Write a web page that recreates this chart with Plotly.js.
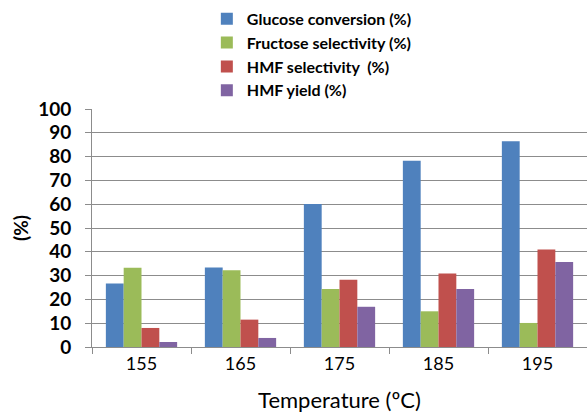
<!DOCTYPE html>
<html>
<head>
<meta charset="utf-8">
<script src="https://cdn.plot.ly/plotly-3.0.1.min.js"></script>
<style>html,body{margin:0;padding:0;background:#fff;}#chart{width:587px;height:418px;}</style>
</head>
<body>
<div id="chart"></div>
<script>
const temperatures = ["155", "165", "175", "185", "195"];
const glucoseConversion = [26.7, 33.4, 60.1, 78.3, 86.4];
const fructoseSelectivity = [33.3, 32.2, 24.4, 15.0, 10.1];
const hmfSelectivity = [8.0, 11.5, 28.3, 30.9, 41.0];
const hmfYield = [2.1, 3.8, 16.9, 24.4, 35.7];
const seriesNames = ["Glucose conversion (%)", "Fructose selectivity (%)", "HMF selectivity  (%)", "HMF yield (%)"];
const seriesColors = ["#4F81BD", "#9BBB59", "#C0504D", "#8064A2"];
const seriesValues = [glucoseConversion, fructoseSelectivity, hmfSelectivity, hmfYield];

const font = "Lato, 'Open Sans', sans-serif";
const traces = seriesValues.map((v, i) => ({
  type: "bar",
  x: temperatures,
  y: v,
  name: seriesNames[i],
  marker: {color: seriesColors[i], line: {width: 0}},
  hoverinfo: "x+y+name"
}));

const layout = {
  width: 587, height: 418,
  margin: {l: 92, r: 0, t: 109, b: 71},
  paper_bgcolor: "#fff", plot_bgcolor: "#fff",
  barmode: "group", bargap: 0.28, bargroupgap: 0,
  font: {family: font, color: "#000"},
  showlegend: true,
  legend: {
    x: 0.232, y: 1.45, xanchor: "left", yanchor: "top",
    font: {family: font, size: 16, color: "#000", weight: "bold"},
    traceorder: "normal",
    itemwidth: 30, bgcolor: "rgba(0,0,0,0)"
  },
  xaxis: {
    type: "category",
    showline: true, linecolor: "#8c8c8c", linewidth: 1,
    ticks: "outside", tickson: "boundaries", ticklen: 6, tickcolor: "#8c8c8c",
    tickfont: {family: font, size: 18, color: "#000"},
    showgrid: false,
    title: {text: "Temperature (ºC)", font: {family: font, size: 22, color: "#000"}, standoff: 20}
  },
  yaxis: {
    range: [0, 100], dtick: 10, tick0: 0,
    showline: true, linecolor: "#8c8c8c", linewidth: 1,
    ticks: "outside", ticklen: 6, tickcolor: "#8c8c8c",
    ticklabelstandoff: 10,
    showgrid: true, gridcolor: "#8c8c8c", gridwidth: 1,
    zeroline: false,
    tickfont: {family: font, size: 19, color: "#000", weight: "bold"},
    title: {text: "(%)", font: {family: font, size: 19, color: "#000", weight: "bold"}, standoff: 4}
  }
};

Plotly.newPlot("chart", traces, layout, {displayModeBar: false, responsive: false});
</script>
</body>
</html>
